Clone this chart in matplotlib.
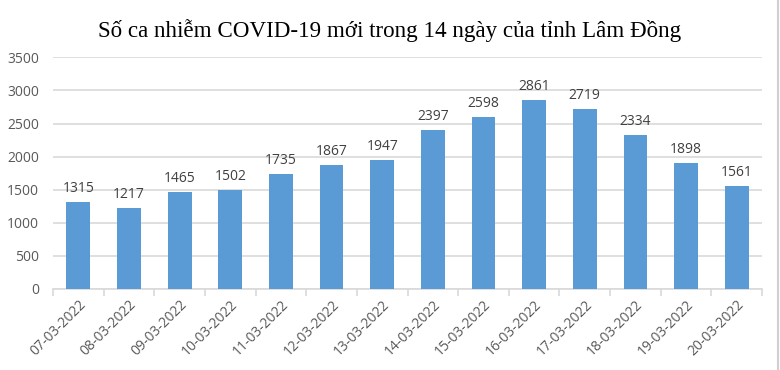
import matplotlib.pyplot as plt
import numpy as np

dates = ["07-03-2022", "08-03-2022", "09-03-2022", "10-03-2022", "11-03-2022",
         "12-03-2022", "13-03-2022", "14-03-2022", "15-03-2022", "16-03-2022",
         "17-03-2022", "18-03-2022", "19-03-2022", "20-03-2022"]
cases = [1315, 1217, 1465, 1502, 1735, 1867, 1947, 2397, 2598, 2861,
         2719, 2334, 1898, 1561]
yticks = [0, 500, 1000, 1500, 2000, 2500, 3000, 3500]

title = "Số ca nhiễm COVID-19 mới trong 14 ngày của tỉnh Lâm Đồng"

text_color = "#595959"
grid_color = "#d9d9d9"

fig = plt.figure(figsize=(7.8, 3.7), dpi=100)
ax = fig.add_axes([0.068, 0.219, 0.909, 0.626])

x = np.arange(len(dates))
ax.bar(x, cases, width=0.47, color="#5b9bd5", zorder=3)

for xi, v in zip(x, cases):
    ax.text(xi, v + 90, str(v), ha="center", va="bottom",
            fontsize=10, color="#404040", family="Open Sans")

ax.set_xlim(-0.5, len(dates) - 0.5)
ax.set_ylim(0, 3500)
ax.set_yticks(yticks)
ax.set_yticklabels([str(t) for t in yticks], fontsize=10, color=text_color,
                   family="Open Sans")
ax.yaxis.grid(True, color=grid_color, linewidth=1.2, zorder=0)
ax.tick_params(axis="y", length=0, pad=10)

# category boundary ticks
ax.set_xticks(np.arange(-0.5, len(dates)), minor=True)
ax.set_xticks(x)
ax.set_xticklabels(dates, rotation=45, ha="right", rotation_mode="anchor",
                   fontsize=10, color=text_color, family="Open Sans")
ax.tick_params(axis="x", which="major", length=0, pad=6)
ax.tick_params(axis="x", which="minor", length=5, color=grid_color, width=1.2)

for s in ["top", "right", "left"]:
    ax.spines[s].set_visible(False)
ax.spines["bottom"].set_color(grid_color)
ax.spines["bottom"].set_linewidth(1.2)

fig.text(0.5, 0.918, title, ha="center", va="center", fontsize=16.6,
         family="Liberation Serif", color="black")

# frame edge on the right
fig.add_artist(plt.Line2D([0.997, 0.997], [0, 1], color="#d0d0d0",
                          linewidth=1.5, transform=fig.transFigure))

plt.savefig("out.png", dpi=100)
plt.close()
